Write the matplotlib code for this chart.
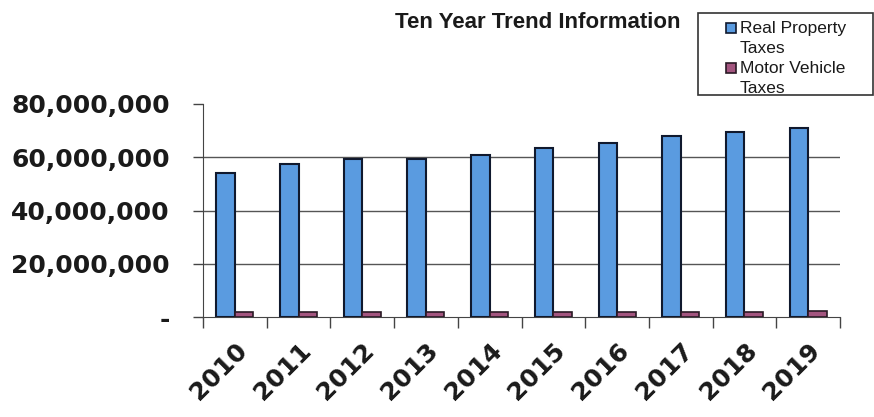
import numpy as np
import matplotlib
matplotlib.use("Agg")
import matplotlib.pyplot as plt
from matplotlib.patches import Rectangle

# -------------------------
# DATA
# -------------------------
years = ["2010", "2011", "2012", "2013", "2014", "2015", "2016", "2017", "2018", "2019"]
real_property = [54.1e6, 57.3e6, 59.3e6, 59.5e6, 61.0e6, 63.5e6, 65.4e6, 68.0e6, 69.3e6, 70.9e6]
motor_vehicle = [2.0e6, 2.0e6, 2.0e6, 2.0e6, 2.0e6, 2.0e6, 2.0e6, 2.0e6, 2.0e6, 2.1e6]
series_names = ["Real Property\nTaxes", "Motor Vehicle\nTaxes"]
ytick_vals = [0, 20e6, 40e6, 60e6, 80e6]
ytick_labels = ["-", "20,000,000", "40,000,000", "60,000,000", "80,000,000"]

BLUE, BLUE_EDGE = "#5A9BE0", "#10192e"
PINK, PINK_EDGE = "#A3557F", "#2a1a25"

# -------------------------
# PLOT
# -------------------------
fig = plt.figure(figsize=(8.74, 4.17), dpi=100)
ax = fig.add_axes([0.2323, 0.2398, 0.7288, 0.5108])

x = np.arange(len(years))
w = 0.29
ax.bar(x - w / 2, real_property, w, color=BLUE, edgecolor=BLUE_EDGE, linewidth=1.5, zorder=3)
ax.bar(x + w / 2, motor_vehicle, w, color=PINK, edgecolor=PINK_EDGE, linewidth=1.2, zorder=3)

ax.set_xlim(-0.5, len(years) - 0.5)
ax.set_ylim(0, 80e6)

# grid only at 20/40/60M
for v in ytick_vals[1:4]:
    ax.axhline(v, color="#555555", linewidth=1.0, zorder=1)

ax.set_yticks(ytick_vals)
ax.set_yticklabels(ytick_labels, fontsize=18, fontweight="bold", family="DejaVu Sans", color="#1a1a1a")
ax.tick_params(axis="y", length=7, width=1, color="#444444", pad=17)

# x ticks at category boundaries, labels at centers
ax.set_xticks(np.arange(len(years) + 1) - 0.5)
ax.set_xticklabels([])
ax.tick_params(axis="x", length=8, width=1, color="#444444")
ax.set_xticks(x, minor=True)
ax.set_xticklabels(years, minor=True, rotation=45, ha="right", rotation_mode="anchor",
                   fontsize=18, fontweight="bold", family="DejaVu Sans", color="#1a1a1a")
ax.tick_params(axis="x", which="minor", length=0, pad=15)

for s in ["top", "right"]:
    ax.spines[s].set_visible(False)
ax.spines["left"].set_color("#444444")
ax.spines["bottom"].set_color("#444444")

fig.text(0.615, 0.945, "Ten Year Trend Information", ha="center", va="center",
         fontsize=16, fontweight="bold", family="Liberation Sans", color="#1a1a1a")

# -------------------------
# LEGEND (hand-made box, pixel coords -> figure fraction)
# -------------------------
def fx(px):
    return px / 874

def fy(py):
    return 1 - py / 417

fig.patches.append(Rectangle((fx(698), fy(95)), 175 / 874, 82 / 417, transform=fig.transFigure,
                             facecolor="white", edgecolor="#333333", linewidth=1.2))
for i, (name, fc, ec) in enumerate(zip(series_names, [BLUE, PINK], [BLUE_EDGE, PINK_EDGE])):
    top = 22 + i * 40
    fig.patches.append(Rectangle((fx(726), fy(top + 11)), 10 / 874, 10 / 417,
                                 transform=fig.transFigure, facecolor=fc, edgecolor=ec,
                                 linewidth=1.2))
    fig.text(fx(740), fy(top - 1), name, ha="left", va="top", linespacing=1.4,
             fontsize=12.5, family="Liberation Sans", color="#1a1a1a")

fig.savefig("out.png", dpi=100)
